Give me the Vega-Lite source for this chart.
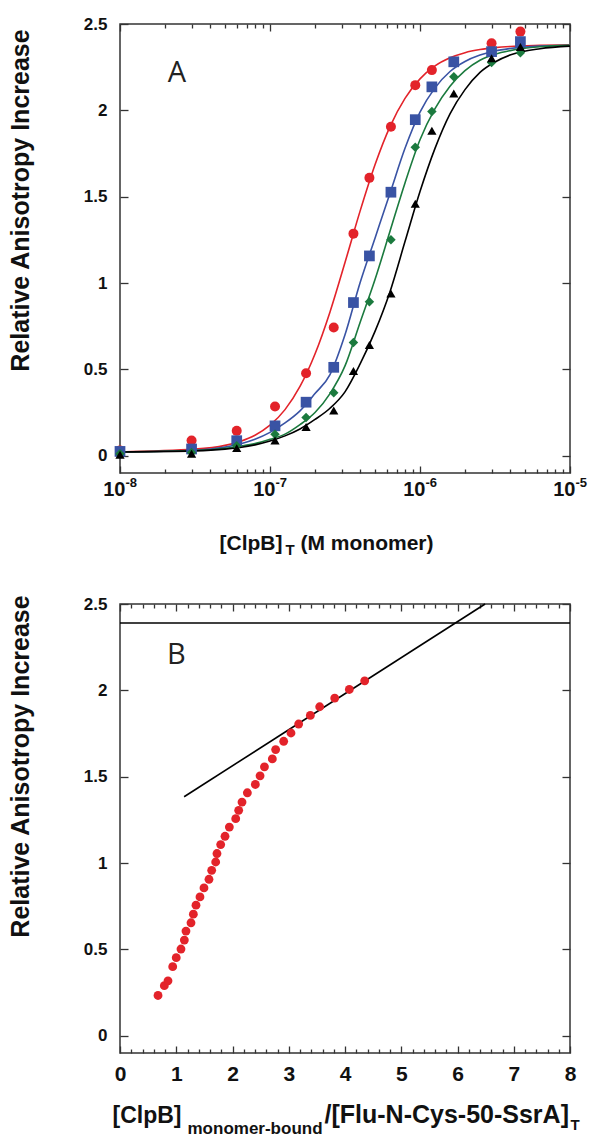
{
  "$schema": "https://vega.github.io/schema/vega-lite/v6.json",
  "padding": {"left": 7, "top": 14, "right": 0, "bottom": 0},
  "background": "white",
  "config": {
    "font": "Liberation Sans",
    "view": {"stroke": "#333", "strokeWidth": 1.5},
    "axis": {"grid": false, "domain": false, "labelFont": "Liberation Sans", "labelFontWeight": "bold", "labelColor": "#111", "titleFont": "Liberation Sans", "titleFontWeight": "bold", "titleColor": "#111", "tickColor": "#333", "tickWidth": 1.3, "labelFlush": false, "labelOverlap": false}
  },
  "datasets": {
    "fitA": [
      {"x":1e-8,"red":0.022,"blue":0.022,"green":0.022,"black":0.022},
      {"x":3.162e-8,"red":0.038,"blue":0.032,"green":0.03,"black":0.028},
      {"x":5.012e-8,"red":0.06,"blue":0.05,"green":0.043,"black":0.038},
      {"x":6.31e-8,"red":0.083,"blue":0.068,"green":0.055,"black":0.048},
      {"x":7.943e-8,"red":0.119,"blue":0.095,"green":0.07,"black":0.063},
      {"x":1e-7,"red":0.177,"blue":0.135,"green":0.095,"black":0.085},
      {"x":1.259e-7,"red":0.267,"blue":0.19,"green":0.125,"black":0.115},
      {"x":1.585e-7,"red":0.401,"blue":0.26,"green":0.18,"black":0.155},
      {"x":1.995e-7,"red":0.589,"blue":0.36,"green":0.25,"black":0.21},
      {"x":2.512e-7,"red":0.833,"blue":0.47,"green":0.36,"black":0.275},
      {"x":3.162e-7,"red":1.119,"blue":0.7,"green":0.52,"black":0.37},
      {"x":3.981e-7,"red":1.415,"blue":1.0,"green":0.77,"black":0.53},
      {"x":5.012e-7,"red":1.685,"blue":1.26,"green":1.02,"black":0.72},
      {"x":6.31e-7,"red":1.906,"blue":1.52,"green":1.3,"black":0.95},
      {"x":7.943e-7,"red":2.069,"blue":1.78,"green":1.58,"black":1.24},
      {"x":1e-6,"red":2.182,"blue":1.99,"green":1.83,"black":1.53},
      {"x":1.259e-6,"red":2.257,"blue":2.13,"green":2.01,"black":1.78},
      {"x":1.585e-6,"red":2.304,"blue":2.225,"green":2.14,"black":1.98},
      {"x":1.995e-6,"red":2.334,"blue":2.283,"green":2.23,"black":2.12},
      {"x":2.512e-6,"red":2.352,"blue":2.32,"green":2.29,"black":2.22},
      {"x":3.162e-6,"red":2.363,"blue":2.344,"green":2.325,"black":2.28},
      {"x":3.981e-6,"red":2.37,"blue":2.358,"green":2.346,"black":2.32},
      {"x":6.31e-6,"red":2.376,"blue":2.372,"green":2.368,"black":2.357},
      {"x":1e-5,"red":2.379,"blue":2.377,"green":2.376,"black":2.372}
    ],
    "ptsA": [
      {"x":1e-8,"red":0.03,"blue":0.025,"green":0.012,"black":0.006},
      {"x":3e-8,"red":0.088,"blue":0.039,"green":0.019,"black":0.012},
      {"x":6e-8,"red":0.144,"blue":0.087,"green":0.058,"black":0.044},
      {"x":1.08e-7,"red":0.285,"blue":0.173,"green":0.125,"black":0.088},
      {"x":1.74e-7,"red":0.478,"blue":0.31,"green":0.221,"black":0.166},
      {"x":2.66e-7,"red":0.743,"blue":0.512,"green":0.365,"black":0.262},
      {"x":3.6e-7,"red":1.286,"blue":0.887,"green":0.656,"black":0.491},
      {"x":4.6e-7,"red":1.609,"blue":1.157,"green":0.891,"black":0.641},
      {"x":6.4e-7,"red":1.905,"blue":1.526,"green":1.251,"black":0.939},
      {"x":9.3e-7,"red":2.146,"blue":1.946,"green":1.786,"black":1.459},
      {"x":1.2e-6,"red":2.233,"blue":2.136,"green":1.994,"black":1.882},
      {"x":1.68e-6,"red":null,"blue":2.281,"green":2.194,"black":2.098},
      {"x":3e-6,"red":2.389,"blue":2.34,"green":2.277,"black":2.302},
      {"x":4.67e-6,"red":2.456,"blue":2.398,"green":2.334,"black":2.367}
    ],
    "ptsB": [
      {"x":0.676,"y":0.233},{"x":0.788,"y":0.29},{"x":0.853,"y":0.318},{"x":0.937,"y":0.4},
      {"x":1.0,"y":0.452},{"x":1.084,"y":0.502},{"x":1.144,"y":0.554},{"x":1.173,"y":0.606},
      {"x":1.262,"y":0.654},{"x":1.304,"y":0.704},{"x":1.351,"y":0.756},{"x":1.422,"y":0.804},
      {"x":1.493,"y":0.856},{"x":1.582,"y":0.906},{"x":1.63,"y":0.958},{"x":1.701,"y":1.006},
      {"x":1.724,"y":1.055},{"x":1.79,"y":1.107},{"x":1.867,"y":1.155},{"x":1.944,"y":1.208},
      {"x":2.057,"y":1.257},{"x":2.11,"y":1.305},{"x":2.169,"y":1.353},{"x":2.264,"y":1.407},
      {"x":2.406,"y":1.455},{"x":2.49,"y":1.505},{"x":2.568,"y":1.557},{"x":2.708,"y":1.603},
      {"x":2.767,"y":1.657},{"x":2.91,"y":1.705},{"x":3.04,"y":1.753},{"x":3.176,"y":1.805},
      {"x":3.384,"y":1.855},{"x":3.55,"y":1.905},{"x":3.817,"y":1.955},{"x":4.077,"y":2.005},
      {"x":4.35,"y":2.055}
    ]
  },
  "spacing": 131,
  "bounds": "flush",
  "vconcat": [
    {
      "width": 450,
      "height": 449,
      "resolve": {"axis": {"x": "independent", "y": "independent"}},
      "layer": [
        {
          "data": {"name": "fitA"},
          "transform": [{"fold": ["red", "blue", "green", "black"], "as": ["s", "v"]}],
          "mark": {"type": "line", "interpolate": "monotone"},
          "encoding": {
            "x": {"field": "x", "type": "quantitative", "scale": {"type": "log", "domain": [1e-8, 1e-5]},
              "axis": {"orient": "bottom", "values": [1e-8, 1e-7, 1e-6, 1e-5], "tickSize": -7, "labelPadding": 13, "labelFontSize": 20, "labelAlign": "right", "labelOffset": 5, "labelBaseline": "top",
                "labelExpr": "'10'",
                "title": "[ClpB]", "titleFontSize": 21, "titleX": 99, "titleY": 76, "titleAlign": "left", "titleBaseline": "alphabetic", "titleAngle": 0}},
            "y": {"field": "v", "type": "quantitative", "scale": {"domain": [-0.1, 2.5], "nice": false, "zero": false},
              "axis": {"orient": "left", "values": [0, 0.5, 1, 1.5, 2, 2.5], "format": "~g", "tickSize": -8, "labelPadding": 21, "labelFontSize": 17,
                "title": "Relative Anisotropy Increase", "titleFontSize": 25, "titleAngle": 270, "titleX": -92, "titleY": 176, "titleAlign": "center", "titleBaseline": "alphabetic"}},
            "color": {"field": "s", "type": "nominal", "scale": {"domain": ["red", "blue", "green", "black"], "range": ["#e3232a", "#3953a4", "#1b7a3e", "#000000"]}, "legend": null},
            "strokeWidth": {"field": "s", "type": "nominal", "scale": {"domain": ["red", "blue", "green", "black"], "range": [1.6, 1.6, 1.6, 2.2]}, "legend": null}
          }
        },
        {
          "data": {"name": "ptsA"},
          "transform": [{"filter": "datum.red != null"}],
          "mark": {"type": "point", "shape": "circle", "filled": true, "size": 100, "color": "#e3232a", "opacity": 1},
          "encoding": {
            "x": {"field": "x", "type": "quantitative", "scale": {"type": "log", "domain": [1e-8, 1e-5]},
              "axis": {"orient": "bottom", "values": [2e-8,3e-8,4e-8,5e-8,6e-8,7e-8,8e-8,9e-8,2e-7,3e-7,4e-7,5e-7,6e-7,7e-7,8e-7,9e-7,2e-6,3e-6,4e-6,5e-6,6e-6,7e-6,8e-6,9e-6], "tickSize": -4, "labels": false,
                "title": "T", "titleFontSize": 15, "titleX": 165, "titleY": 81, "titleAlign": "left", "titleBaseline": "alphabetic", "titleAngle": 0}},
            "y": {"field": "red", "type": "quantitative", "scale": {"domain": [-0.1, 2.5], "nice": false, "zero": false},
              "axis": {"orient": "right", "values": [0, 0.5, 1, 1.5, 2, 2.5], "tickSize": -8, "labels": false, "title": null}}
          }
        },
        {
          "data": {"name": "ptsA"},
          "mark": {"type": "point", "shape": "square", "filled": true, "size": 115, "color": "#3953a4", "opacity": 1},
          "encoding": {
            "x": {"field": "x", "type": "quantitative", "scale": {"type": "log", "domain": [1e-8, 1e-5]},
              "axis": {"orient": "top", "values": [1e-8, 1e-7, 1e-6, 1e-5], "tickSize": -7, "labelPadding": -445, "labelFontSize": 13, "labelAlign": "left", "labelOffset": 5, "labelBaseline": "top",
                "labelExpr": "datum.value < 3e-8 ? '-8' : datum.value < 3e-7 ? '-7' : datum.value < 3e-6 ? '-6' : '-5'",
                "title": "(M monomer)", "titleFontSize": 21, "titleX": 180, "titleY": 525, "titleAlign": "left", "titleBaseline": "alphabetic", "titleAngle": 0}},
            "y": {"field": "blue", "type": "quantitative", "scale": {"domain": [-0.1, 2.5], "nice": false, "zero": false}, "axis": null}
          }
        },
        {
          "data": {"name": "ptsA"},
          "mark": {"type": "point", "shape": "diamond", "filled": true, "size": 90, "color": "#1b7a3e", "opacity": 1},
          "encoding": {
            "x": {"field": "x", "type": "quantitative", "scale": {"type": "log", "domain": [1e-8, 1e-5]},
              "axis": {"orient": "top", "values": [2e-8,3e-8,4e-8,5e-8,6e-8,7e-8,8e-8,9e-8,2e-7,3e-7,4e-7,5e-7,6e-7,7e-7,8e-7,9e-7,2e-6,3e-6,4e-6,5e-6,6e-6,7e-6,8e-6,9e-6], "tickSize": -4, "labels": false, "title": null}},
            "y": {"field": "green", "type": "quantitative", "scale": {"domain": [-0.1, 2.5], "nice": false, "zero": false}, "axis": null}
          }
        },
        {
          "data": {"name": "ptsA"},
          "mark": {"type": "point", "shape": "triangle-up", "filled": true, "size": 85, "color": "#000000", "opacity": 1},
          "encoding": {
            "x": {"field": "x", "type": "quantitative", "scale": {"type": "log", "domain": [1e-8, 1e-5]}, "axis": null},
            "y": {"field": "black", "type": "quantitative", "scale": {"domain": [-0.1, 2.5], "nice": false, "zero": false}, "axis": null}
          }
        },
        {
          "data": {"values": [{"x": 2.4e-8, "y": 2.217, "t": "A"}]},
          "mark": {"type": "text", "font": "Open Sans", "fontSize": 29, "fontWeight": "normal", "color": "#222", "align": "center", "baseline": "middle"},
          "encoding": {
            "x": {"field": "x", "type": "quantitative", "scale": {"type": "log", "domain": [1e-8, 1e-5]}, "axis": null},
            "y": {"field": "y", "type": "quantitative", "scale": {"domain": [-0.1, 2.5], "nice": false, "zero": false}, "axis": null},
            "text": {"field": "t"}
          }
        }
      ]
    },
    {
      "width": 450,
      "height": 449,
      "resolve": {"axis": {"x": "independent", "y": "independent"}},
      "layer": [
        {
          "data": {"values": [{"x": 0, "x2": 8, "y": 2.39}]},
          "mark": {"type": "rule", "color": "#000", "strokeWidth": 1.6},
          "encoding": {
            "x": {"field": "x", "type": "quantitative", "scale": {"domain": [0, 8], "nice": false, "zero": false},
              "axis": {"orient": "bottom", "values": [0,1,2,3,4,5,6,7,8], "format": "d", "tickSize": -7, "labelPadding": 17, "labelFontSize": 21,
                "title": "[ClpB]", "titleFontSize": 23, "titleX": -8, "titleY": 69, "titleAlign": "left", "titleBaseline": "alphabetic", "titleAngle": 0}},
            "x2": {"field": "x2"},
            "y": {"field": "y", "type": "quantitative", "scale": {"domain": [-0.1, 2.5], "nice": false, "zero": false},
              "axis": {"orient": "left", "values": [0, 0.5, 1, 1.5, 2, 2.5], "format": "~g", "tickSize": -8, "labelPadding": 21, "labelFontSize": 17,
                "title": "Relative Anisotropy Increase", "titleFontSize": 25, "titleAngle": 270, "titleX": -92, "titleY": 162, "titleAlign": "center", "titleBaseline": "alphabetic"}}
          }
        },
        {
          "data": {"values": [{"x": 1.14, "y": 1.384}, {"x": 6.49, "y": 2.5}]},
          "mark": {"type": "line", "color": "#000", "strokeWidth": 1.6},
          "encoding": {
            "x": {"field": "x", "type": "quantitative", "scale": {"domain": [0, 8], "nice": false, "zero": false},
              "axis": {"orient": "bottom", "values": [0.2,0.4,0.6,0.8,1.2,1.4,1.6,1.8,2.2,2.4,2.6,2.8,3.2,3.4,3.6,3.8,4.2,4.4,4.6,4.8,5.2,5.4,5.6,5.8,6.2,6.4,6.6,6.8,7.2,7.4,7.6,7.8], "tickSize": -4, "labels": false,
                "title": "monomer-bound", "titleFontSize": 17, "titleX": 67, "titleY": 80, "titleAlign": "left", "titleBaseline": "alphabetic", "titleAngle": 0}},
            "y": {"field": "y", "type": "quantitative", "scale": {"domain": [-0.1, 2.5], "nice": false, "zero": false},
              "axis": {"orient": "right", "values": [0, 0.5, 1, 1.5, 2, 2.5], "tickSize": -8, "labels": false, "title": null}}
          }
        },
        {
          "data": {"name": "ptsB"},
          "mark": {"type": "point", "shape": "circle", "filled": true, "size": 78, "color": "#e3232a", "opacity": 1},
          "encoding": {
            "x": {"field": "x", "type": "quantitative", "scale": {"domain": [0, 8], "nice": false, "zero": false},
              "axis": {"orient": "top", "values": [0,1,2,3,4,5,6,7,8], "tickSize": -7, "labels": false,
                "title": "/[Flu-N-Cys-50-SsrA]", "titleFontSize": 25, "titleX": 204, "titleY": 518, "titleAlign": "left", "titleBaseline": "alphabetic", "titleAngle": 0}},
            "y": {"field": "y", "type": "quantitative", "scale": {"domain": [-0.1, 2.5], "nice": false, "zero": false}, "axis": null}
          }
        },
        {
          "data": {"values": [{"x": 1.0, "y": 2.205, "t": "B"}]},
          "mark": {"type": "text", "font": "Open Sans", "fontSize": 29, "fontWeight": "normal", "color": "#222", "align": "center", "baseline": "middle"},
          "encoding": {
            "x": {"field": "x", "type": "quantitative", "scale": {"domain": [0, 8], "nice": false, "zero": false},
              "axis": {"orient": "top", "values": [0.2,0.4,0.6,0.8,1.2,1.4,1.6,1.8,2.2,2.4,2.6,2.8,3.2,3.4,3.6,3.8,4.2,4.4,4.6,4.8,5.2,5.4,5.6,5.8,6.2,6.4,6.6,6.8,7.2,7.4,7.6,7.8], "tickSize": -4, "labels": false,
                "title": "T", "titleFontSize": 15, "titleX": 450, "titleY": 525, "titleAlign": "left", "titleBaseline": "alphabetic", "titleAngle": 0}},
            "y": {"field": "y", "type": "quantitative", "scale": {"domain": [-0.1, 2.5], "nice": false, "zero": false}, "axis": null},
            "text": {"field": "t"}
          }
        }
      ]
    }
  ]
}
